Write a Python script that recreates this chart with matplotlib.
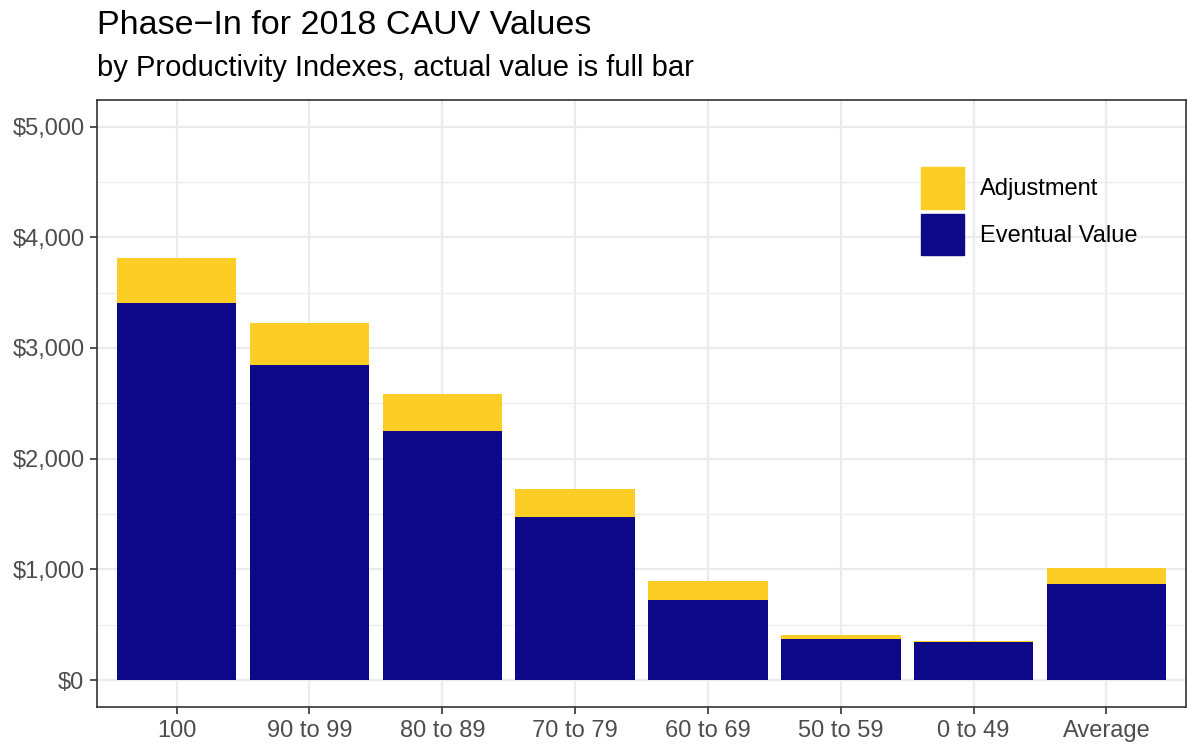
import numpy as np
import matplotlib
matplotlib.use("Agg")
import matplotlib.pyplot as plt
from matplotlib.ticker import FuncFormatter, MultipleLocator
from matplotlib.patches import Patch

plt.rcParams['font.family'] = ['Liberation Sans', 'DejaVu Sans']

# data
categories = ['100', '90 to 99', '80 to 89', '70 to 79', '60 to 69', '50 to 59', '0 to 49', 'Average']
eventual = [3409, 2848, 2251, 1474, 723, 370, 343, 867]
full_value = [3815, 3228, 2586, 1727, 895, 407, 352, 1012]
adjustment = [f - e for f, e in zip(full_value, eventual)]

blue = '#0D0887'
yellow = '#FCCD25'

fig = plt.figure(figsize=(11.87, 7.44), dpi=100)
ax = fig.add_axes([0.0817, 0.0497, 0.9175, 0.8159])

x = np.arange(len(categories))
ax.bar(x, eventual, width=0.9, color=blue, zorder=3)
ax.bar(x, adjustment, width=0.9, bottom=eventual, color=yellow, zorder=3)

ax.set_xlim(-0.6, 7.6)
ax.set_ylim(-244, 5240)
ax.set_xticks(x)
ax.set_xticklabels(categories)
ax.yaxis.set_major_locator(MultipleLocator(1000))
ax.yaxis.set_minor_locator(MultipleLocator(500))
ax.yaxis.set_major_formatter(FuncFormatter(lambda v, p: '${:,.0f}'.format(v)))

ax.grid(which='major', color='#EBEBEB', linewidth=1.6, zorder=0)
ax.grid(which='minor', axis='y', color='#EBEBEB', linewidth=0.8, zorder=0)
ax.set_axisbelow(True)
for s in ax.spines.values():
    s.set_color('#333333')
    s.set_linewidth(1.2)
ax.tick_params(axis='both', which='major', labelsize=17, labelcolor='#4D4D4D',
               color='#333333', length=5, width=1.2, pad=4)
ax.tick_params(axis='y', which='minor', length=0)

handles = [Patch(color=yellow, label='Adjustment'), Patch(color=blue, label='Eventual Value')]
ax.legend(handles=handles, loc='upper left', bbox_to_anchor=(0.7567, 0.8896), frameon=False,
          fontsize=17, handlelength=1.82, handleheight=2.35, handletextpad=0.68,
          labelspacing=0.2, borderpad=0, borderaxespad=0)

fig.text(0.0817, 0.9543, 'Phase\u2212In for 2018 CAUV Values', fontsize=24.5, ha='left', va='baseline')
fig.text(0.0817, 0.8978, 'by Productivity Indexes, actual value is full bar', fontsize=21, ha='left', va='baseline')

fig.savefig('out.png', dpi=100)
